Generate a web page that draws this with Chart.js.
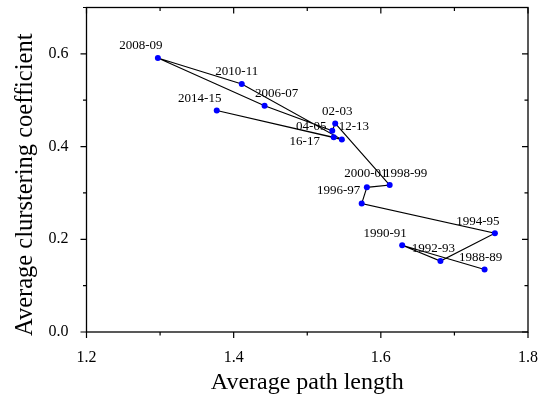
<!DOCTYPE html>
<html>
<head>
<meta charset="utf-8">
<script src="https://cdn.jsdelivr.net/npm/chart.js@4"></script>
<style>
  html, body { margin: 0; padding: 0; background: #fff; }
  #wrap { width: 538px; height: 399px; }
</style>
</head>
<body>
<div id="wrap"><canvas id="netChart" width="538" height="399"></canvas></div>
<script>
// seasons in the order the line joins them
const seasons = ['1988-89', '1990-91', '1992-93', '1994-95', '1996-97', '2000-01', '1998-99',
                 '02-03', '04-05', '2006-07', '2008-09', '2010-11', '12-13', '2014-15', '16-17'];
// average path length
const pathLen = [1.741, 1.629, 1.681, 1.755, 1.574, 1.581, 1.612,
                 1.538, 1.534, 1.442, 1.297, 1.411, 1.547, 1.377, 1.536];
// average clustering coefficient
const clustCoef = [0.135, 0.187, 0.153, 0.213, 0.277, 0.312, 0.317,
                   0.450, 0.434, 0.488, 0.591, 0.535, 0.415, 0.478, 0.420];

const xTicks = ['1.2', '1.4', '1.6', '1.8'];
const yTicks = ['0.0', '0.2', '0.4', '0.6'];
const yTitle = 'Average clurstering coefficient';

// where each season's name sits relative to its dot (px)
const labelShift = [[-4, -12], [-17, -12], [-7, -12], [-17, -12], [-23, -13], [-1, -14], [16, -11],
                    [2, -12], [-21, -4], [12, -12], [-17, -12], [-5, -12], [12, -13], [-17, -12], [-29, 4]];

const serif = 'Liberation Serif, Times New Roman, serif';

const points = pathLen.map((x, i) => ({ x: x, y: clustCoef[i] }));

// frame, ticks on all four sides, season names and the y title
const decor = {
    id: 'decor',
    afterDatasetsDraw(chart) {
        const ctx = chart.ctx;
        const a = chart.chartArea;
        const xs = chart.scales.x, ys = chart.scales.y;
        ctx.save();
        ctx.strokeStyle = '#000';
        ctx.lineWidth = 1.3;
        ctx.strokeRect(a.left, a.top, a.right - a.left, a.bottom - a.top);

        ctx.lineWidth = 1.2;
        ctx.beginPath();
        xs.ticks.forEach(t => {
            const px = xs.getPixelForValue(t.value);
            const len = xTicks.includes(t.value.toFixed(1)) ? 6 : 3.5;
            ctx.moveTo(px, a.bottom); ctx.lineTo(px, a.bottom + len);
            ctx.moveTo(px, a.top); ctx.lineTo(px, a.top + len);
        });
        ys.ticks.forEach(t => {
            const py = ys.getPixelForValue(t.value);
            const len = yTicks.includes(t.value.toFixed(1)) ? 6 : 3.5;
            ctx.moveTo(a.left, py); ctx.lineTo(a.left - len, py);
            ctx.moveTo(a.right, py); ctx.lineTo(a.right - len, py);
        });
        ctx.stroke();

        ctx.fillStyle = '#000';
        ctx.font = '13px ' + serif;
        ctx.textAlign = 'center';
        ctx.textBaseline = 'middle';
        chart.getDatasetMeta(0).data.forEach((el, i) => {
            ctx.fillText(seasons[i], el.x + labelShift[i][0], el.y + labelShift[i][1]);
        });

        // y title sits a bit below the middle of the axis in the original
        ctx.translate(32, (a.top + a.bottom) / 2 + 15);
        ctx.rotate(-Math.PI / 2);
        ctx.font = '24.5px ' + serif;
        ctx.textBaseline = 'alphabetic';
        ctx.fillText(yTitle, 0, 0);
        ctx.restore();
    }
};

const ctx = document.getElementById('netChart').getContext('2d');
new Chart(ctx, {
    type: 'scatter',
    data: {
        datasets: [{
            data: points,
            showLine: true,
            borderColor: '#000',
            borderWidth: 1.1,
            pointRadius: 3,
            pointBackgroundColor: '#0000ff',
            pointBorderColor: '#0000ff',
            pointBorderWidth: 0
        }]
    },
    options: {
        responsive: false,
        animation: false,
        devicePixelRatio: 1,
        layout: { padding: { top: 7.5, right: 10, left: 0, bottom: 0 } },
        plugins: { legend: { display: false }, tooltip: { enabled: false } },
        scales: {
            x: {
                type: 'linear',
                min: 1.2, max: 1.8,
                afterFit: s => { s.height = 67; s.paddingLeft = 0; s.paddingRight = 0; },
                grid: { display: false },
                border: { display: false },
                ticks: {
                    stepSize: 0.1, autoSkip: false, maxRotation: 0, padding: 8,
                    color: '#000', font: { family: serif, size: 16 },
                    callback: v => xTicks.includes(v.toFixed(1)) ? v.toFixed(1) : ''
                },
                title: {
                    display: true, text: 'Average path length', color: '#000',
                    font: { family: serif, size: 24 }, padding: { top: 0, bottom: 2 }
                }
            },
            y: {
                type: 'linear',
                min: 0, max: 0.7,
                afterFit: s => { s.width = 86.5; s.paddingTop = 0; s.paddingBottom = 0; },
                grid: { display: false },
                border: { display: false },
                ticks: {
                    stepSize: 0.1, autoSkip: false, padding: 10,
                    color: '#000', font: { family: serif, size: 16 },
                    callback: v => yTicks.includes(v.toFixed(1)) ? v.toFixed(1) : ''
                }
            }
        }
    },
    plugins: [decor]
});
</script>
</body>
</html>
